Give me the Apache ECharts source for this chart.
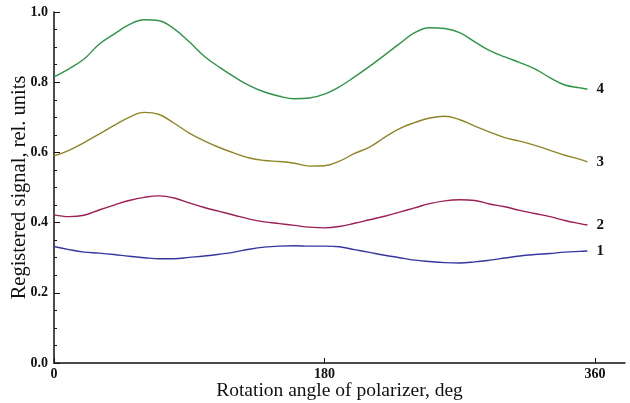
<!DOCTYPE html>
<html>
<head>
<meta charset="utf-8">
<script src="https://cdn.jsdelivr.net/npm/echarts@6/dist/echarts.min.js"></script>
<style>html,body{margin:0;padding:0;background:#fff}#c{width:630px;height:403px}</style>
</head>
<body>
<div id="c"></div>
<script>
const angles = [0,10,20,30,40,50,60,70,80,90,100,110,120,130,140,150,160,170,180,190,200,210,220,230,240,250,260,270,280,290,300,310,320,330,340,350,355];
const curve1 = [0.332,0.323,0.316,0.313,0.309,0.304,0.300,0.297,0.297,0.301,0.305,0.310,0.316,0.324,0.330,0.333,0.334,0.333,0.333,0.331,0.323,0.315,0.307,0.300,0.293,0.289,0.286,0.285,0.288,0.293,0.299,0.305,0.309,0.312,0.316,0.318,0.319];
const curve2 = [0.422,0.417,0.421,0.436,0.450,0.463,0.472,0.476,0.470,0.456,0.443,0.432,0.421,0.410,0.402,0.397,0.392,0.387,0.385,0.389,0.398,0.408,0.418,0.430,0.442,0.454,0.462,0.465,0.463,0.453,0.445,0.435,0.426,0.417,0.406,0.397,0.393];
const curve3 = [0.590,0.606,0.628,0.652,0.677,0.700,0.714,0.708,0.683,0.655,0.633,0.614,0.598,0.584,0.577,0.574,0.569,0.561,0.562,0.575,0.597,0.615,0.643,0.668,0.685,0.698,0.703,0.693,0.675,0.658,0.642,0.632,0.620,0.606,0.592,0.580,0.573];
const curve4 = [0.815,0.838,0.866,0.908,0.937,0.964,0.978,0.975,0.952,0.915,0.874,0.843,0.815,0.790,0.772,0.760,0.753,0.755,0.766,0.787,0.815,0.845,0.877,0.910,0.941,0.955,0.953,0.941,0.915,0.890,0.872,0.856,0.838,0.813,0.792,0.784,0.780];
const seriesNames = ['1','2','3','4'];
const xTicks = [0,180,360];
const yTicks = [0,0.2,0.4,0.6,0.8,1.0];
const xTitle = 'Rotation angle of polarizer, deg';
const yTitle = 'Registered signal, rel. units';

const colors = ['#3636a0','#9c1f55','#8f8527','#2f9447'];
const curves = [curve1, curve2, curve3, curve4];
const serif = '"Liberation Serif","DejaVu Serif",serif';

const chart = echarts.init(document.getElementById('c'), null, {renderer:'canvas'});
chart.setOption({
  animation: false,
  grid: {left: 54, top: 12, right: 5, bottom: 40, containLabel: false, outerBoundsMode: 'none'},
  xAxis: {
    type: 'value', min: 0, max: 380,
    name: xTitle, nameLocation: 'middle', nameGap: 18, nameMoveOverlap: false,
    nameTextStyle: {fontFamily: serif, fontSize: 19.5, color: '#111'},
    axisLine: {show: true, lineStyle: {color: '#111', width: 1.5}},
    axisTick: {show: true, inside: true, length: 5, customValues: xTicks, lineStyle: {color: '#111'}},
    axisLabel: {customValues: xTicks, fontFamily: serif, fontWeight: 'bold', fontSize: 14, color: '#111', margin: 4},
    splitLine: {show: false}
  },
  yAxis: {
    type: 'value', min: 0, max: 1, interval: 0.2,
    name: yTitle, nameLocation: 'middle', nameGap: 24, nameMoveOverlap: false,
    nameTextStyle: {fontFamily: serif, fontSize: 20.5, color: '#111'},
    axisLine: {show: true, lineStyle: {color: '#111', width: 1.5}},
    axisTick: {show: true, inside: true, length: 6, lineStyle: {color: '#111'}},
    minorTick: {show: true, splitNumber: 4, length: 3, lineStyle: {color: '#111'}},
    axisLabel: {fontFamily: serif, fontWeight: 'bold', fontSize: 14, color: '#111', margin: 6,
      formatter: v => v.toFixed(1)},
    splitLine: {show: false}
  },
  series: curves.map((c, i) => ({
    type: 'line', name: seriesNames[i],
    data: angles.map((a, j) => [a, c[j]]),
    smooth: 0.4, showSymbol: false, symbol: 'none',
    lineStyle: {color: colors[i], width: 1.4},
    itemStyle: {color: colors[i]},
    endLabel: {show: true, formatter: seriesNames[i], distance: 9,
      fontFamily: serif, fontWeight: 'bold', fontSize: 15, color: '#111'}
  }))
});
</script>
</body>
</html>
